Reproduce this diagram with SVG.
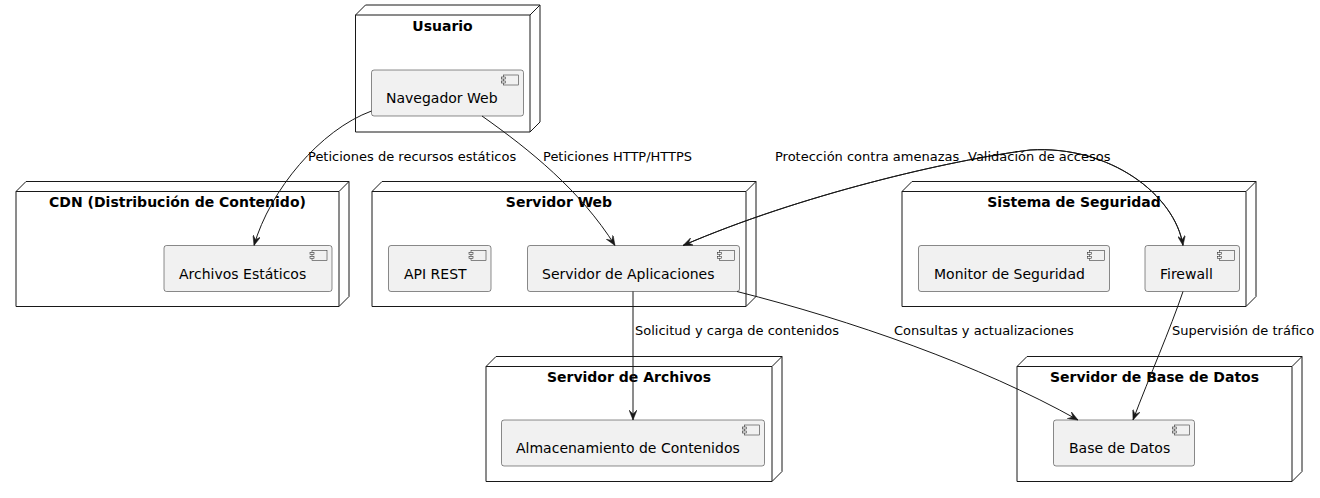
<svg xmlns="http://www.w3.org/2000/svg" width="1320" height="498" viewBox="0 0 1320 498">
<style>
.bg{fill:#FFFFFF}
.node{fill:#FFFFFF;stroke:#181818;stroke-width:1}
.nline{fill:none;stroke:#181818;stroke-width:1}
.ntitle{font-family:"DejaVu Sans",sans-serif;font-size:14px;font-weight:bold;fill:#000000;text-anchor:middle}
.comp{fill:#F1F1F1;stroke:#181818;stroke-width:0.5}
.icon{fill:#F1F1F1;stroke:#181818;stroke-width:0.5}
.ctext{font-family:"DejaVu Sans",sans-serif;font-size:14px;fill:#000000}
.edge{fill:none;stroke:#181818;stroke-width:1}
.elabel{font-family:"DejaVu Sans",sans-serif;font-size:13px;fill:#000000}
</style>
<defs>
<marker id="arrow" markerUnits="userSpaceOnUse" viewBox="0 0 10 8" refX="10" refY="4" markerWidth="10" markerHeight="8" orient="auto">
<path d="M0,0 L10,4 L0,8 L4,4 Z" fill="#181818" stroke="#181818" stroke-width="0.5"/>
</marker>
<g id="cicon">
<rect x="-20" y="5" width="15" height="10" class="icon"/>
<rect x="-22" y="7" width="4" height="2" class="icon"/>
<rect x="-22" y="11" width="4" height="2" class="icon"/>
</g>
</defs>
<rect x="0" y="0" width="1320" height="498" class="bg"/>

<g id="node-usuario">
<path class="node" d="M355.5,15 L365.5,5 L540,5 L540,122 L530,132 L355.5,132 Z"/>
<path class="nline" d="M530,15 L540,5 M355.5,15 L530,15 L530,132"/>
<text class="ntitle" x="442.5" y="31">Usuario</text>
<g id="comp-navegador">
<rect class="comp" x="371.5" y="70" width="152" height="46" rx="2.5"/>
<use href="#cicon" x="523.5" y="70"/>
<text class="ctext" x="386" y="103">Navegador Web</text>
</g>
</g>

<g id="node-cdn">
<path class="node" d="M16,191.5 L26,181.5 L349,181.5 L349,296.5 L339,306.5 L16,306.5 Z"/>
<path class="nline" d="M339,191.5 L349,181.5 M16,191.5 L339,191.5 L339,306.5"/>
<text class="ntitle" x="177.5" y="207">CDN (Distribución de Contenido)</text>
<g id="comp-archivos-estaticos">
<rect class="comp" x="164" y="245.5" width="168" height="46" rx="2.5"/>
<use href="#cicon" x="332" y="245.5"/>
<text class="ctext" x="179" y="278.5">Archivos Estáticos</text>
</g>
</g>

<g id="node-servidor-web">
<path class="node" d="M372,191.5 L382,181.5 L756,181.5 L756,296.5 L746,306.5 L372,306.5 Z"/>
<path class="nline" d="M746,191.5 L756,181.5 M372,191.5 L746,191.5 L746,306.5"/>
<text class="ntitle" x="559" y="207">Servidor Web</text>
<g id="comp-api-rest">
<rect class="comp" x="388.5" y="245.5" width="102.5" height="46" rx="2.5"/>
<use href="#cicon" x="491" y="245.5"/>
<text class="ctext" x="404" y="278.5">API REST</text>
</g>
<g id="comp-servidor-aplicaciones">
<rect class="comp" x="527.5" y="245.5" width="212" height="46" rx="2.5"/>
<use href="#cicon" x="739.5" y="245.5"/>
<text class="ctext" x="542" y="278.5">Servidor de Aplicaciones</text>
</g>
</g>

<g id="node-sistema-seguridad">
<path class="node" d="M902,191.5 L912,181.5 L1256,181.5 L1256,296.5 L1246,306.5 L902,306.5 Z"/>
<path class="nline" d="M1246,191.5 L1256,181.5 M902,191.5 L1246,191.5 L1246,306.5"/>
<text class="ntitle" x="1074" y="207">Sistema de Seguridad</text>
<g id="comp-monitor">
<rect class="comp" x="918.5" y="245.5" width="191" height="46" rx="2.5"/>
<use href="#cicon" x="1109.5" y="245.5"/>
<text class="ctext" x="934" y="278.5">Monitor de Seguridad</text>
</g>
<g id="comp-firewall">
<rect class="comp" x="1145" y="245.5" width="94.5" height="46" rx="2.5"/>
<use href="#cicon" x="1239.5" y="245.5"/>
<text class="ctext" x="1160" y="278.5">Firewall</text>
</g>
</g>

<g id="node-servidor-archivos">
<path class="node" d="M486,366.5 L496,356.5 L782,356.5 L782,471.5 L772,481.5 L486,481.5 Z"/>
<path class="nline" d="M772,366.5 L782,356.5 M486,366.5 L772,366.5 L772,481.5"/>
<text class="ntitle" x="629" y="382">Servidor de Archivos</text>
<g id="comp-almacenamiento">
<rect class="comp" x="501.5" y="420" width="263" height="46" rx="2.5"/>
<use href="#cicon" x="764.5" y="420"/>
<text class="ctext" x="516" y="453">Almacenamiento de Contenidos</text>
</g>
</g>

<g id="node-servidor-bd">
<path class="node" d="M1017,366.5 L1027,356.5 L1302,356.5 L1302,471.5 L1292,481.5 L1017,481.5 Z"/>
<path class="nline" d="M1292,366.5 L1302,356.5 M1017,366.5 L1292,366.5 L1292,481.5"/>
<text class="ntitle" x="1154.5" y="382">Servidor de Base de Datos</text>
<g id="comp-base-datos">
<rect class="comp" x="1053.5" y="420" width="141" height="46" rx="2.5"/>
<use href="#cicon" x="1194.5" y="420"/>
<text class="ctext" x="1069" y="453">Base de Datos</text>
</g>
</g>

<g id="connectors">
<path class="edge" marker-end="url(#arrow)" d="M371.5,111 C320,130 270,190 254,245.5"/>
<text class="elabel" x="308" y="161">Peticiones de recursos estáticos</text>

<path class="edge" marker-end="url(#arrow)" d="M482,116 C530,150 580,190 615,245.5"/>
<text class="elabel" x="543" y="161">Peticiones HTTP/HTTPS</text>

<path class="edge" marker-end="url(#arrow)" d="M683,245.5 C800,195 950,160 1030,150 C1110,145 1175,195 1183,245.5"/>
<path class="edge" marker-end="url(#arrow)" d="M1183,245.5 C1175,195 1110,145 1030,150 C950,160 800,195 683,245.5"/>
<text class="elabel" x="775" y="161">Protección contra amenazas</text>
<text class="elabel" x="968" y="161">Validación de accesos</text>

<path class="edge" marker-end="url(#arrow)" d="M633,291.5 L633,420"/>
<text class="elabel" x="635" y="335">Solicitud y carga de contenidos</text>

<path class="edge" marker-end="url(#arrow)" d="M737,291.5 C850,320 980,365 1078,420"/>
<text class="elabel" x="894" y="335">Consultas y actualizaciones</text>

<path class="edge" marker-end="url(#arrow)" d="M1183,291.5 C1170,330 1150,375 1133,420"/>
<text class="elabel" x="1172" y="335">Supervisión de tráfico</text>
</g>
</svg>
